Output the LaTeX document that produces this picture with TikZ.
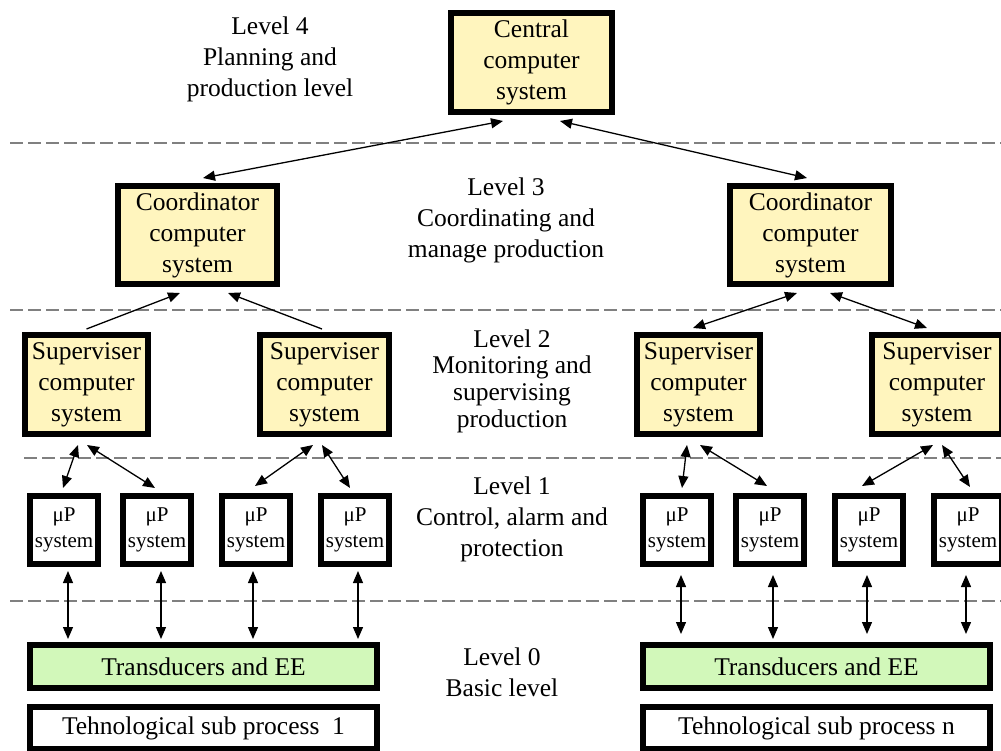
\documentclass[tikz,border=0pt]{standalone}
\usepackage{fontspec}
\setmainfont{Liberation Serif}
\usetikzlibrary{calc,arrows.meta}
\definecolor{boxyellow}{HTML}{FFF5BE}
\definecolor{boxgreen}{HTML}{D2F8BA}
\definecolor{dashgray}{HTML}{808080}
\tikzset{
  base/.style={draw=black, line width=6pt, align=center, inner sep=0pt, font=\fontsize{25.5}{31}\selectfont},
  ybox/.style={base, fill=boxyellow},
  gbox/.style={base, fill=boxgreen},
  wbox/.style={base, fill=white},
  upbox/.style={base, fill=white, minimum width=68pt, minimum height=68pt, font=\fontsize{21}{26}\selectfont},
  lvl/.style={align=center, inner sep=0pt, font=\fontsize{25.5}{31}\selectfont},
  sep/.style={draw=dashgray, line width=1.8pt, dash pattern=on 13pt off 5pt},
  tipa/.style={-{Triangle[length=12pt,width=10pt]}, line width=1.3pt},
  tipb/.style={{Triangle[length=12pt,width=10pt]}-{Triangle[length=12pt,width=10pt]}, line width=1.3pt}
}
\begin{document}
\begin{tikzpicture}[x=1pt,y=-1pt]
\useasboundingbox (0,0) rectangle (1001,751);
\clip (0,0) rectangle (1001,751);
% separators
\coordinate (s1a) at (10,143); \coordinate (s1b) at (1001,143);
\coordinate (s2a) at (10,310); \coordinate (s2b) at (1001,310);
\coordinate (s3a) at (24,458); \coordinate (s3b) at (1001,458);
\coordinate (s4a) at (10,601); \coordinate (s4b) at (1001,601);
\draw[sep] (s1a) -- (s1b);
\draw[sep] (s2a) -- (s2b);
\draw[sep] (s3a) -- (s3b);
\draw[sep] (s4a) -- (s4b);
% level labels
\node[lvl] (l4) at (270,59) {Level 4\\Planning and\\production level};
\node[lvl] (l3) at (506,220) {Level 3\\Coordinating and\\manage production};
\node[lvl, font=\fontsize{25.5}{26.7}\selectfont] (l2) at (512,381) {Level 2\\Monitoring and\\supervising\\production};
\node[lvl] (l1) at (512,519) {Level 1\\Control, alarm and\\protection};
\node[lvl] (l0) at (502,672) {Level 0\\Basic level};
% boxes
\node[ybox, minimum width=161pt, minimum height=99pt] (central) at (531.5,62.5) {Central\\computer\\system};
\node[ybox, minimum width=159pt, minimum height=98pt] (coordL) at (197.5,235) {Coordinator\\computer\\system};
\node[ybox, minimum width=161pt, minimum height=98pt] (coordR) at (810.5,235) {Coordinator\\computer\\system};
\node[ybox, minimum width=123pt, minimum height=99pt] (sup1) at (86.5,384.5) {Superviser\\computer\\system};
\node[ybox, minimum width=129pt, minimum height=99pt] (sup2) at (324.5,384.5) {Superviser\\computer\\system};
\node[ybox, minimum width=123pt, minimum height=99pt] (sup3) at (698.5,384.5) {Superviser\\computer\\system};
\node[ybox, minimum width=130pt, minimum height=99pt] (sup4) at (937,384.5) {Superviser\\computer\\system};
\node[upbox] (up1) at (64,530) {μP\\system};
\node[upbox] (up2) at (157,530) {μP\\system};
\node[upbox] (up3) at (256,530) {μP\\system};
\node[upbox] (up4) at (355,530) {μP\\system};
\node[upbox] (up5) at (677,530) {μP\\system};
\node[upbox] (up6) at (770,530) {μP\\system};
\node[upbox] (up7) at (869,530) {μP\\system};
\node[upbox] (up8) at (968,530) {μP\\system};
\node[gbox, minimum width=347pt, minimum height=43pt] (trL) at (203.5,666.5) {Transducers and EE};
\node[gbox, minimum width=347pt, minimum height=43pt] (trR) at (816.5,666.5) {Transducers and EE};
\node[wbox, minimum width=347pt, minimum height=42pt] (tehL) at (203.5,728) {Tehnological sub process\ \ 1};
\node[wbox, minimum width=347pt, minimum height=42pt] (tehR) at (816.5,728) {Tehnological sub process n};
% level 4 - level 3
\draw[tipb] ($(central.south)+(-28.5,6)$) -- ($(coordL.north)+(5.5,-5)$);
\draw[tipb] ($(central.south)+(28.5,6)$) -- ($(coordR.north)+(-3.5,-5)$);
% level 3 - level 2
\draw[tipa] ($(sup1.north)+(0,-3)$) -- ($(coordL.south)+(-17.5,6)$);
\draw[tipa] ($(sup2.north)+(-2.5,-3)$) -- ($(coordL.south)+(30.5,6)$);
\draw[tipb] ($(coordR.south)+(-13.5,6)$) -- ($(sup3.north)+(-5.5,-4)$);
\draw[tipb] ($(coordR.south)+(19.5,6)$) -- ($(sup4.north)+(-10,-4)$);
% level 2 - level 1
\draw[tipb] ($(sup1.south)+(-8.5,8)$) -- ($(up1.north)+(-1,-5)$);
\draw[tipb] ($(sup1.south)+(0.5,8)$) -- ($(up2.north)+(-2,-5)$);
\draw[tipb] ($(sup2.south)+(-11.5,8)$) -- ($(up3.north)+(-1,-7)$);
\draw[tipb] ($(sup2.south)+(-2.5,8)$) -- ($(up4.north)+(-5,-5)$);
\draw[tipb] ($(sup3.south)+(-11.5,8)$) -- ($(up5.north)+(5,-5)$);
\draw[tipb] ($(sup3.south)+(1.5,8)$) -- ($(up6.north)+(-3,-7)$);
\draw[tipb] ($(sup4.south)+(-4,8)$) -- ($(up7.north)+(-7,-7)$);
\draw[tipb] ($(sup4.south)+(5,8)$) -- ($(up8.north)+(2,-6)$);
% level 1 - level 0
\draw[tipb] ($(up1.south)+(4,4)$) -- ($(trL.north -| up1.south)+(4,-3)$);
\draw[tipb] ($(up2.south)+(4,4)$) -- ($(trL.north -| up2.south)+(4,-3)$);
\draw[tipb] ($(up3.south)+(-3,4)$) -- ($(trL.north -| up3.south)+(-3,-3)$);
\draw[tipb] ($(up4.south)+(3,4)$) -- ($(trL.north -| up4.south)+(3,-3)$);
\draw[tipb] ($(up5.south)+(4,8)$) -- ($(trR.north -| up5.south)+(4,-8)$);
\draw[tipb] ($(up6.south)+(3,8)$) -- ($(trR.north -| up6.south)+(3,-3)$);
\draw[tipb] ($(up7.south)+(-2,8)$) -- ($(trR.north -| up7.south)+(-2,-8)$);
\draw[tipb] ($(up8.south)+(-2,8)$) -- ($(trR.north -| up8.south)+(-2,-8)$);
\end{tikzpicture}
\end{document}
